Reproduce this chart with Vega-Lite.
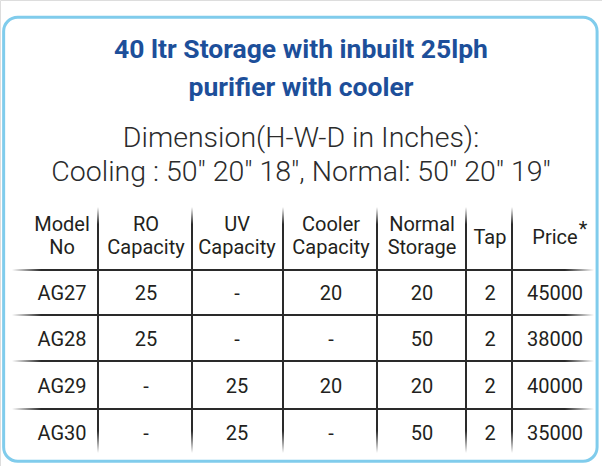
{
  "$schema": "https://vega.github.io/schema/vega-lite/v6.json",
  "width": 602,
  "height": 466,
  "autosize": {"type": "none"},
  "padding": 0,
  "background": "white",
  "title": {
    "text": ["40 ltr Storage with inbuilt 25lph", "purifier with cooler"],
    "subtitle": ["Dimension(H-W-D in Inches):", "Cooling : 50\" 20\" 18\", Normal: 50\" 20\" 19\""],
    "anchor": "middle",
    "frame": "group",
    "font": "Roboto",
    "fontSize": 26.5,
    "fontWeight": "bold",
    "color": "#1d4f9a",
    "lineHeight": 38,
    "subtitleFont": "Roboto",
    "subtitleFontSize": 28.5,
    "subtitleFontWeight": 300,
    "subtitleColor": "#2b2b2b",
    "subtitleLineHeight": 34,
    "subtitlePadding": 22,
    "dy": 190
  },
  "datasets": {
    "vlines": [{"x": 0.5}, {"x": 1.5}, {"x": 2.5}, {"x": 3.5}, {"x": 4.5}, {"x": 5.5}],
    "hlines": [{"y": 0.5}, {"y": 1.5}, {"y": 2.5}, {"y": 3.5}],
    "header": [
      {"x": 0, "y": -0.25, "label": "Model"}, {"x": 0, "y": 0.25, "label": "No"},
      {"x": 1, "y": -0.25, "label": "RO"}, {"x": 1, "y": 0.25, "label": "Capacity"},
      {"x": 2, "y": -0.25, "label": "UV"}, {"x": 2, "y": 0.25, "label": "Capacity"},
      {"x": 3, "y": -0.25, "label": "Cooler"}, {"x": 3, "y": 0.25, "label": "Capacity"},
      {"x": 4, "y": -0.25, "label": "Normal"}, {"x": 4, "y": 0.25, "label": "Storage"},
      {"x": 5, "y": 0, "label": "Tap"},
      {"x": 6, "y": 0, "label": "Price"}
    ],
    "cells": [
      {"x": 0, "y": 1, "label": "AG27"}, {"x": 1, "y": 1, "label": "25"}, {"x": 2, "y": 1, "label": "-"}, {"x": 3, "y": 1, "label": "20"}, {"x": 4, "y": 1, "label": "20"}, {"x": 5, "y": 1, "label": "2"}, {"x": 6, "y": 1, "label": "45000"},
      {"x": 0, "y": 2, "label": "AG28"}, {"x": 1, "y": 2, "label": "25"}, {"x": 2, "y": 2, "label": "-"}, {"x": 3, "y": 2, "label": "-"}, {"x": 4, "y": 2, "label": "50"}, {"x": 5, "y": 2, "label": "2"}, {"x": 6, "y": 2, "label": "38000"},
      {"x": 0, "y": 3, "label": "AG29"}, {"x": 1, "y": 3, "label": "-"}, {"x": 2, "y": 3, "label": "25"}, {"x": 3, "y": 3, "label": "20"}, {"x": 4, "y": 3, "label": "20"}, {"x": 5, "y": 3, "label": "2"}, {"x": 6, "y": 3, "label": "40000"},
      {"x": 0, "y": 4, "label": "AG30"}, {"x": 1, "y": 4, "label": "-"}, {"x": 2, "y": 4, "label": "25"}, {"x": 3, "y": 4, "label": "-"}, {"x": 4, "y": 4, "label": "50"}, {"x": 5, "y": 4, "label": "2"}, {"x": 6, "y": 4, "label": "35000"}
    ]
  },
  "encoding": {
    "x": {
      "type": "quantitative",
      "axis": null,
      "scale": {
        "domain": [-1, -0.5, 0, 0.5, 1, 1.5, 2, 2.5, 3, 3.5, 4, 4.5, 5, 5.5, 6, 6.5, 7],
        "range": [2.5, 12, 62, 98, 146, 192, 237, 283, 331, 377, 422, 466, 490, 512, 555, 594, 597.5],
        "nice": false,
        "zero": false
      }
    },
    "y": {
      "type": "quantitative",
      "axis": null,
      "scale": {
        "domain": [-2, -1, -0.25, 0, 0.25, 0.5, 1, 1.5, 2, 2.5, 3, 3.5, 4, 4.5, 5],
        "range": [2.5, 207, 225, 238, 248, 270, 294, 315, 340, 361, 387, 409, 434, 453, 462.5],
        "nice": false,
        "zero": false
      }
    }
  },
  "layer": [
    {
      "data": {"values": [{}]},
      "mark": {"type": "rect", "fill": "white", "stroke": "#80ccec", "strokeWidth": 3, "cornerRadius": 14},
      "encoding": {
        "x": {"datum": -1, "type": "quantitative"},
        "x2": {"datum": 7},
        "y": {"datum": -2, "type": "quantitative"},
        "y2": {"datum": 5}
      }
    },
    {
      "data": {"name": "hlines"},
      "mark": {
        "type": "bar",
        "height": 2,
        "fill": {
          "gradient": "linear", "x1": 0, "y1": 0, "x2": 1, "y2": 0,
          "stops": [
            {"offset": 0, "color": "#ffffff"},
            {"offset": 0.05, "color": "#2a2a2a"},
            {"offset": 0.95, "color": "#2a2a2a"},
            {"offset": 1, "color": "#ffffff"}
          ]
        }
      },
      "encoding": {
        "y": {"field": "y", "type": "quantitative"},
        "x": {"datum": -0.5, "type": "quantitative"},
        "x2": {"datum": 6.5}
      }
    },
    {
      "data": {"name": "vlines"},
      "mark": {
        "type": "bar",
        "width": 2,
        "fill": {
          "gradient": "linear", "x1": 0, "y1": 0, "x2": 0, "y2": 1,
          "stops": [
            {"offset": 0, "color": "#ffffff"},
            {"offset": 0.07, "color": "#2a2a2a"},
            {"offset": 0.91, "color": "#2a2a2a"},
            {"offset": 1, "color": "#ffffff"}
          ]
        }
      },
      "encoding": {
        "x": {"field": "x", "type": "quantitative"},
        "y": {"datum": -1, "type": "quantitative"},
        "y2": {"datum": 4.5}
      }
    },
    {
      "data": {"name": "header"},
      "mark": {"type": "text", "font": "Roboto", "fontSize": 20, "color": "#231f20", "baseline": "middle", "align": "center"},
      "encoding": {
        "x": {"field": "x", "type": "quantitative"},
        "y": {"field": "y", "type": "quantitative"},
        "text": {"field": "label"}
      }
    },
    {
      "data": {"values": [{"x": 6, "y": 0, "label": "*"}]},
      "mark": {"type": "text", "font": "Roboto", "fontSize": 20, "color": "#231f20", "baseline": "middle", "align": "center", "dx": 28, "dy": -8},
      "encoding": {
        "x": {"field": "x", "type": "quantitative"},
        "y": {"field": "y", "type": "quantitative"},
        "text": {"field": "label"}
      }
    },
    {
      "data": {"name": "cells"},
      "mark": {"type": "text", "font": "Roboto", "fontSize": 20, "color": "#231f20", "baseline": "middle", "align": "center"},
      "encoding": {
        "x": {"field": "x", "type": "quantitative"},
        "y": {"field": "y", "type": "quantitative"},
        "text": {"field": "label"}
      }
    }
  ]
}
